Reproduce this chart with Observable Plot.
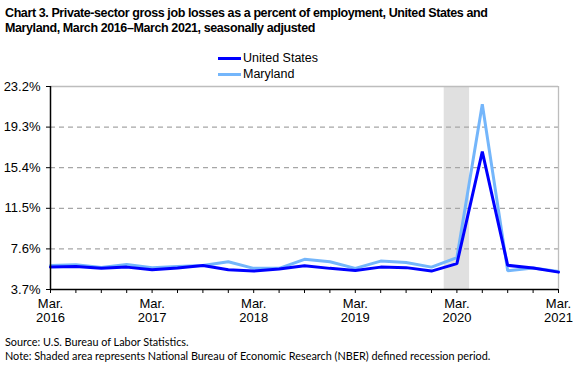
<!DOCTYPE html>
<html>
<head>
<meta charset="utf-8">
<script src="https://cdn.jsdelivr.net/npm/d3@7"></script>
<script src="https://cdn.jsdelivr.net/npm/@observablehq/plot@0.6"></script>
<style>
  html, body { margin: 0; padding: 0; background: #fff; }
  #wrap { position: relative; width: 583px; height: 370px; overflow: hidden; font-family: "Liberation Sans", Arial, sans-serif; color: #000; }
  #title { position: absolute; left: 5px; top: 6px; font-weight: bold; font-size: 12.5px; letter-spacing: -0.4px; line-height: 15px; white-space: nowrap; }
  #legend { position: absolute; left: 218px; top: 50px; font-size: 12.5px; line-height: 16px; }
  #legend .item { display: flex; align-items: center; }
  #legend .sw { display: inline-block; width: 23px; height: 3px; margin-right: 2px; }
  #chart { position: absolute; left: 0; top: 80px; }
  #notes { position: absolute; left: 5px; top: 335px; font-family: Lato, "Open Sans", sans-serif; font-size: 10.85px; line-height: 14px; white-space: nowrap; }
</style>
</head>
<body>
<div id="wrap">
  <div id="title">Chart 3. Private-sector gross job losses as a percent of employment, United States and<br>Maryland, March 2016–March 2021, seasonally adjusted</div>
  <div id="legend"></div>
  <div id="chart"></div>
  <div id="notes">Source: U.S. Bureau of Labor Statistics.<br>Note: Shaded area represents National Bureau of Economic Research (NBER) defined recession period.</div>
</div>
<script>
// Quarterly periods (March 2016 – March 2021)
const periods = [
  "2016-03","2016-06","2016-09","2016-12",
  "2017-03","2017-06","2017-09","2017-12",
  "2018-03","2018-06","2018-09","2018-12",
  "2019-03","2019-06","2019-09","2019-12",
  "2020-03","2020-06","2020-09","2020-12",
  "2021-03"
];
// Gross job losses as a percent of employment
const unitedStates = [5.85,5.92,5.73,5.85,5.6,5.76,6.0,5.6,5.47,5.66,5.99,5.73,5.53,5.85,5.8,5.47,6.18,16.95,6.02,5.76,5.37];
const maryland     = [6.0,6.08,5.82,6.1,5.8,5.92,6.0,6.37,5.73,5.73,6.6,6.37,5.73,6.43,6.3,5.85,6.76,21.5,5.5,5.76,5.44];
const recessionPeriods = ["2020-03"];
const yTicks = [3.7, 7.6, 11.5, 15.4, 19.3, 23.2];
const seriesNames = ["United States", "Maryland"];
const seriesColors = ["#0000ff", "#74b6fb"];
const monthNames = {"03": "Mar.", "06": "Jun.", "09": "Sep.", "12": "Dec."};

const idx = p => periods.indexOf(p);
const rows = [];
periods.forEach((p, i) => {
  rows.push({i, series: seriesNames[0], value: unitedStates[i]});
  rows.push({i, series: seriesNames[1], value: maryland[i]});
});
const labelTicks = periods.map((p, i) => i).filter(i => periods[i].endsWith("-03"));
const fmtX = i => { const [y, m] = periods[i].split("-"); return monthNames[m] + "\n" + y; };

const plot = Plot.plot({
  width: 583,
  height: 250,
  marginLeft: 50,
  marginRight: 25,
  marginTop: 6,
  marginBottom: 41,
  style: {fontFamily: '"Liberation Sans", Arial, sans-serif', fontSize: "13px", color: "#000", background: "transparent"},
  x: {type: "linear", domain: [0, periods.length - 1]},
  y: {domain: [yTicks[0], yTicks[yTicks.length - 1]]},
  color: {domain: seriesNames, range: seriesColors},
  marks: [
    Plot.rect(recessionPeriods, {x1: d => idx(d) - 0.5, x2: d => idx(d) + 0.5, y1: yTicks[0], y2: yTicks[yTicks.length - 1], fill: "#e0e0e0"}),
    Plot.ruleY(yTicks.slice(1, -1), {stroke: "#a6a6a6", strokeWidth: 1.3, strokeDasharray: "5,4"}),
    Plot.ruleY([yTicks[yTicks.length - 1]], {stroke: "#bdbdbd", strokeWidth: 1.3}),
    Plot.ruleX([periods.length - 1], {stroke: "#bdbdbd", strokeWidth: 1.3}),
    Plot.axisY({ticks: yTicks, tickFormat: d => d.toFixed(1) + "%", tickSize: 4, tickPadding: 6, label: null, stroke: "#000", strokeOpacity: 1}),
    Plot.axisX({ticks: periods.map((p, i) => i), tickFormat: () => "", tickSize: 4, label: null, stroke: "#000", strokeOpacity: 1}),
    Plot.axisX({ticks: labelTicks, tickFormat: fmtX, tickSize: 0, tickPadding: 9, label: null, lineHeight: 1.05}),
    Plot.line(rows.filter(r => r.series === "Maryland"), {x: "i", y: "value", stroke: "series", strokeWidth: 3, strokeLinejoin: "miter"}),
    Plot.line(rows.filter(r => r.series === "United States"), {x: "i", y: "value", stroke: "series", strokeWidth: 3, strokeLinejoin: "miter"}),
    Plot.ruleX([0], {stroke: "#000", strokeWidth: 1.5}),
    Plot.ruleY([yTicks[0]], {stroke: "#000", strokeWidth: 1.5})
  ]
});
document.getElementById("chart").appendChild(plot);

const legend = document.getElementById("legend");
seriesNames.forEach((name, k) => {
  const item = document.createElement("div");
  item.className = "item";
  const sw = document.createElement("span");
  sw.className = "sw";
  sw.style.background = seriesColors[k];
  item.appendChild(sw);
  item.appendChild(document.createTextNode(name));
  legend.appendChild(item);
});
</script>
</body>
</html>
